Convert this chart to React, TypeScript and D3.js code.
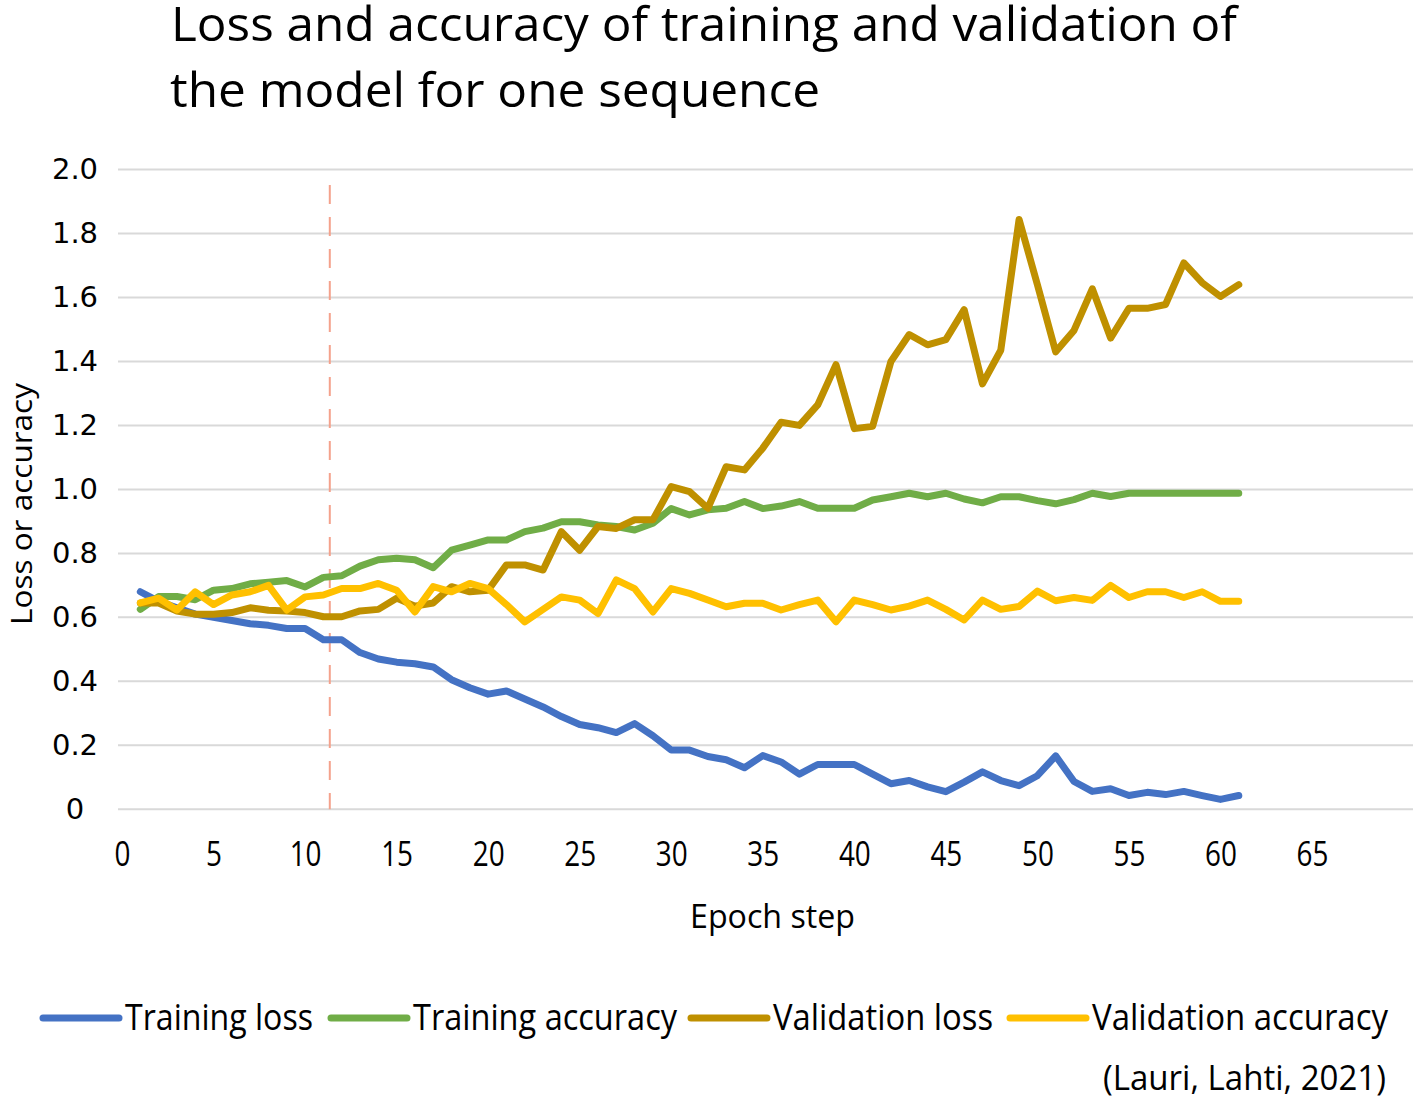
import React, { useEffect, useRef } from 'react';
import * as d3 from 'd3';

// values, epochs 1..61
const trainingLoss = [
  0.68, 0.65, 0.63, 0.61, 0.6, 0.59, 0.58, 0.575, 0.565, 0.565,
  0.53, 0.53, 0.49, 0.47, 0.46, 0.455, 0.445, 0.405, 0.38, 0.36,
  0.37, 0.345, 0.32, 0.29, 0.265, 0.255, 0.24, 0.268, 0.23, 0.185,
  0.185, 0.165, 0.155, 0.13, 0.168, 0.148, 0.11, 0.14, 0.14, 0.14,
  0.11, 0.08, 0.09, 0.07, 0.055, 0.085, 0.117, 0.09, 0.074, 0.105,
  0.167, 0.087, 0.056, 0.064, 0.043, 0.053, 0.046, 0.056, 0.043, 0.031,
  0.043,
];
const trainingAccuracy = [
  0.625, 0.665, 0.665, 0.655, 0.685, 0.69, 0.705, 0.71, 0.715, 0.695,
  0.725, 0.73, 0.76, 0.78, 0.785, 0.78, 0.755, 0.81, 0.826, 0.842,
  0.842, 0.868, 0.879, 0.899, 0.899, 0.889, 0.884, 0.873, 0.894, 0.94,
  0.92, 0.936, 0.941, 0.962, 0.94, 0.948, 0.962, 0.941, 0.941, 0.941,
  0.967, 0.977, 0.988, 0.977, 0.988, 0.97, 0.958, 0.977, 0.977, 0.965,
  0.955, 0.968, 0.988, 0.978, 0.988, 0.988, 0.988, 0.988, 0.988, 0.988,
  0.988,
];
const validationLoss = [
  0.645, 0.645, 0.62, 0.61, 0.61, 0.615, 0.63, 0.622, 0.62, 0.615,
  0.602, 0.602, 0.62, 0.625, 0.66, 0.635, 0.645, 0.696, 0.68, 0.685,
  0.764, 0.764, 0.748, 0.868, 0.81, 0.884, 0.878, 0.905, 0.905, 1.009,
  0.993, 0.941, 1.071, 1.061, 1.129, 1.21, 1.2, 1.264, 1.39, 1.19,
  1.197, 1.4, 1.484, 1.452, 1.468, 1.562, 1.33, 1.435, 1.844, 1.64,
  1.43, 1.497, 1.627, 1.473, 1.566, 1.566, 1.578, 1.708, 1.646, 1.603,
  1.64,
];
const validationAccuracy = [
  0.645, 0.66, 0.623, 0.68, 0.64, 0.67, 0.68, 0.7, 0.623, 0.664,
  0.67, 0.69, 0.69, 0.706, 0.685, 0.617, 0.696, 0.68, 0.706, 0.69,
  0.64, 0.586, 0.625, 0.664, 0.654, 0.612, 0.717, 0.69, 0.617, 0.69,
  0.675, 0.654, 0.633, 0.644, 0.644, 0.623, 0.64, 0.654, 0.586, 0.654,
  0.64, 0.623, 0.635, 0.654, 0.625, 0.592, 0.654, 0.625, 0.634, 0.682,
  0.652, 0.662, 0.653, 0.7, 0.662, 0.68, 0.68, 0.662, 0.68, 0.65,
  0.65,
];

const seriesNames = ['Training loss', 'Training accuracy', 'Validation loss', 'Validation accuracy'];
const seriesColors = ['#4472C4', '#70AD47', '#BF9000', '#FFC000'];
const xTicks = [0, 5, 10, 15, 20, 25, 30, 35, 40, 45, 50, 55, 60, 65];
const yTicks = [0, 0.2, 0.4, 0.6, 0.8, 1.0, 1.2, 1.4, 1.6, 1.8, 2.0];
const markerEpoch = 11.35;

const W = 1416;
const H = 1099;

const App = () => {
  const svgRef = useRef(null);

  useEffect(() => {
    document.body.style.margin = '0';
    const svg = d3.select(svgRef.current);
    svg.selectAll('*').remove();

    const x = d3.scaleLinear().domain([0, 65]).range([122, 1312]);
    const y = d3.scaleLinear().domain([0, 2]).range([809.3, 169.5]);
    const gridLeft = 118;
    const gridRight = 1413;

    svg.append('rect').attr('width', W).attr('height', H).attr('fill', '#fff');

    // horizontal gridlines
    svg.append('g')
      .selectAll('line')
      .data(yTicks)
      .join('line')
      .attr('x1', gridLeft)
      .attr('x2', gridRight)
      .attr('y1', (d) => y(d))
      .attr('y2', (d) => y(d))
      .attr('stroke', '#D9D9D9')
      .attr('stroke-width', 2);

    // dashed marker line
    svg.append('line')
      .attr('x1', x(markerEpoch))
      .attr('x2', x(markerEpoch))
      .attr('y1', 185)
      .attr('y2', y(0))
      .attr('stroke', '#F4A28C')
      .attr('stroke-width', 2)
      .attr('stroke-dasharray', '19,13');

    // y axis labels
    const yAxis = svg.append('g')
      .attr('transform', 'translate(75,0)')
      .call(d3.axisLeft(y).tickValues(yTicks).tickSize(0).tickFormat((d) => (d === 0 ? '0' : d3.format('.1f')(d))));
    yAxis.select('.domain').remove();
    yAxis.selectAll('text')
      .attr('x', 0)
      .attr('text-anchor', 'middle')
      .attr('fill', '#000')
      .style('font-family', '"DejaVu Sans", Verdana, sans-serif')
      .style('font-size', '29px');

    // x axis labels
    const xAxis = svg.append('g')
      .attr('transform', 'translate(0,842)')
      .call(d3.axisBottom(x).tickValues(xTicks).tickSize(0).tickPadding(0));
    xAxis.select('.domain').remove();
    xAxis.selectAll('text')
      .attr('fill', '#000')
      .attr('transform', 'scale(0.82,1)')
      .style('font-family', '"Open Sans", sans-serif')
      .style('font-size', '34px');

    // series lines
    const line = d3.line()
      .x((d, i) => x(i + 1))
      .y((d) => y(d));
    const allSeries = [trainingLoss, trainingAccuracy, validationLoss, validationAccuracy];
    allSeries.forEach((values, k) => {
      svg.append('path')
        .datum(values)
        .attr('fill', 'none')
        .attr('stroke', seriesColors[k])
        .attr('stroke-width', 7)
        .attr('stroke-linejoin', 'round')
        .attr('stroke-linecap', 'round')
        .attr('d', line);
    });

    const font = '"Open Sans", sans-serif';

    // title
    const title = svg.append('g').style('font-family', font).style('font-size', '48px').attr('fill', '#000');
    title.append('text').attr('x', 171).attr('y', 41)
      .attr('textLength', 1066).attr('lengthAdjust', 'spacingAndGlyphs')
      .text('Loss and accuracy of training and validation of');
    title.append('text').attr('x', 170).attr('y', 107)
      .attr('textLength', 650).attr('lengthAdjust', 'spacingAndGlyphs')
      .text('the model for one sequence');

    // axis titles
    svg.append('text')
      .attr('transform', 'translate(32,504) rotate(-90)')
      .attr('text-anchor', 'middle')
      .attr('textLength', 242).attr('lengthAdjust', 'spacingAndGlyphs')
      .style('font-family', font).style('font-size', '30px')
      .text('Loss or accuracy');
    svg.append('text')
      .attr('x', 690).attr('y', 928)
      .attr('textLength', 165).attr('lengthAdjust', 'spacingAndGlyphs')
      .style('font-family', font).style('font-size', '32px')
      .text('Epoch step');

    // legend
    const legendX = [40, 328, 688, 1007];
    const legendTextW = [188, 264, 220, 296];
    const lg = svg.append('g');
    seriesNames.forEach((name, k) => {
      lg.append('line')
        .attr('x1', legendX[k] + 3).attr('x2', legendX[k] + 79)
        .attr('y1', 1018).attr('y2', 1018)
        .attr('stroke', seriesColors[k]).attr('stroke-width', 7)
        .attr('stroke-linecap', 'round');
      lg.append('text')
        .attr('x', legendX[k] + 85).attr('y', 1030)
        .attr('textLength', legendTextW[k]).attr('lengthAdjust', 'spacingAndGlyphs')
        .style('font-family', font).style('font-size', '36px')
        .text(name);
    });

    svg.append('text')
      .attr('x', 1103).attr('y', 1090)
      .attr('textLength', 283).attr('lengthAdjust', 'spacingAndGlyphs')
      .style('font-family', font).style('font-size', '34px')
      .text('(Lauri, Lahti, 2021)');
  }, []);

  return <svg ref={svgRef} width={W} height={H} style={{ display: 'block' }}></svg>;
};

export default App;
